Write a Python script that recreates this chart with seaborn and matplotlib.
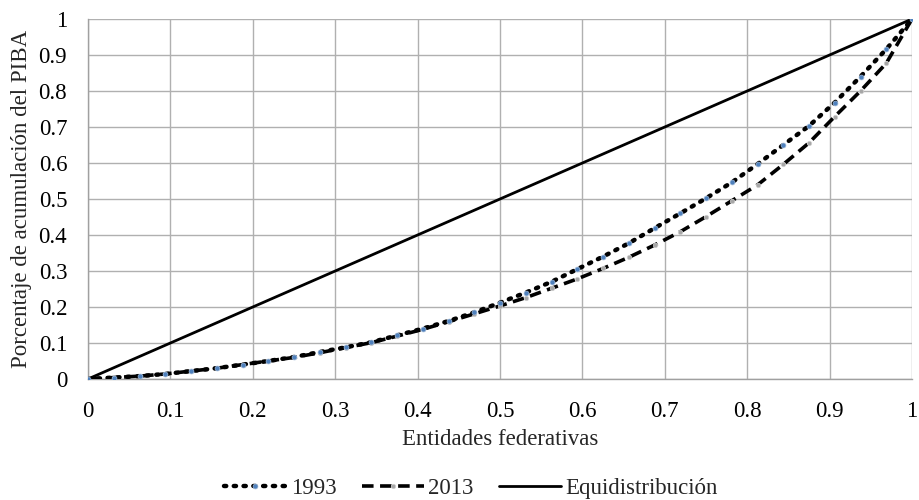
import numpy as np
import pandas as pd
import matplotlib
matplotlib.use("Agg")
import matplotlib.pyplot as plt
import seaborn as sns

# Data: cumulative share of entities (32 states) vs cumulative share of GDP
n_entities = 32
share_entities = [k / n_entities for k in range(n_entities + 1)]
piba_1993 = [0.000, 0.004, 0.008, 0.014, 0.022, 0.030, 0.040, 0.050, 0.061,
             0.075, 0.088, 0.102, 0.121, 0.140, 0.161, 0.185, 0.212, 0.240,
             0.270, 0.305, 0.340, 0.377, 0.419, 0.460, 0.502, 0.546, 0.597,
             0.650, 0.703, 0.768, 0.840, 0.916, 1.000]
piba_2013 = [0.000, 0.004, 0.008, 0.014, 0.022, 0.030, 0.040, 0.050, 0.060,
             0.073, 0.087, 0.101, 0.119, 0.138, 0.159, 0.181, 0.203, 0.226,
             0.252, 0.278, 0.307, 0.338, 0.372, 0.409, 0.451, 0.495, 0.539,
             0.596, 0.656, 0.729, 0.800, 0.877, 1.000]
equi_x = [0.0, 1.0]
equi_y = [0.0, 1.0]

tick_vals = [0, 0.1, 0.2, 0.3, 0.4, 0.5, 0.6, 0.7, 0.8, 0.9, 1]
tick_labels = ["0", "0.1", "0.2", "0.3", "0.4", "0.5", "0.6", "0.7", "0.8", "0.9", "1"]

sns.set_style("white")
plt.rcParams['font.family'] = ['Liberation Serif', 'DejaVu Serif']
FS = 16.5

fig = plt.figure(figsize=(9.19, 5.0), dpi=100)
ax = fig.add_axes([88/919, 1 - 379/500, (912 - 88)/919, (379 - 19)/500])

df93 = pd.DataFrame({"x": share_entities, "y": piba_1993})
df13 = pd.DataFrame({"x": share_entities, "y": piba_2013})
dfeq = pd.DataFrame({"x": equi_x, "y": equi_y})

sns.lineplot(data=df93, x="x", y="y", ax=ax, color="black", linewidth=3.2,
             linestyle=(0, (0.5, 1.7)), dash_capstyle="round",
             marker="o", markersize=3.5, markerfacecolor="#4f81bd",
             markeredgecolor="#9db8d9", markeredgewidth=0.5, label="1993",
             zorder=4)
sns.lineplot(data=df13, x="x", y="y", ax=ax, color="black", linewidth=2.6,
             linestyle=(0, (3.2, 1.8)),
             marker="o", markersize=3.2, markerfacecolor="#a6a6a6",
             markeredgecolor="#d0d0d0", markeredgewidth=0.5, label="2013",
             zorder=3)
sns.lineplot(data=dfeq, x="x", y="y", ax=ax, color="black", linewidth=2.0,
             label="Equidistribución", zorder=3)

ax.set_xlim(0, 1)
ax.set_ylim(0, 1)
ax.set_xticks(tick_vals)
ax.set_xticklabels(tick_labels)
ax.set_yticks(tick_vals)
ax.set_yticklabels(tick_labels)
ax.grid(True, color="#b0b0b0", linewidth=1.0)
ax.set_axisbelow(True)
for s in ["top", "right"]:
    ax.spines[s].set_visible(False)
for s in ["left", "bottom"]:
    ax.spines[s].set_color("#a0a0a0")
    ax.spines[s].set_linewidth(1.0)
ax.tick_params(axis="both", which="both", direction="out", length=5,
               color="#a0a0a0", width=1.0, labelsize=FS, colors="black")
ax.tick_params(axis="y", pad=10)
ax.tick_params(axis="x", pad=11)
for lab in ax.get_xticklabels() + ax.get_yticklabels():
    lab.set_color("black")

ax.set_xlabel("Entidades federativas", fontsize=FS, labelpad=5)
ax.set_ylabel("Porcentaje de acumulación del PIBA", fontsize=FS, labelpad=5)

leg = ax.legend(loc="center", bbox_to_anchor=(471/919, 1 - 488/500),
                bbox_transform=fig.transFigure, ncol=3, frameon=False,
                fontsize=FS, handlelength=2.7, columnspacing=1.1,
                handletextpad=0.2)

fig.savefig("out.png", dpi=100)
